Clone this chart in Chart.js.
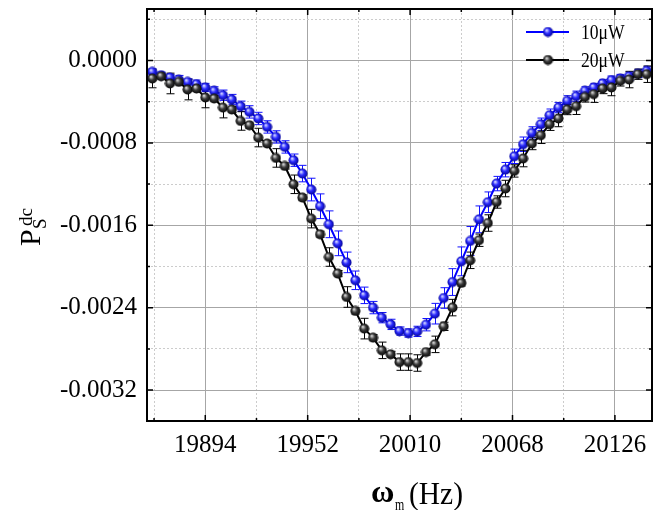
<!DOCTYPE html>
<html lang="en">
<head>
    <meta charset="UTF-8">
    <title>P_S^dc vs omega_m</title>
    <script src="https://cdn.jsdelivr.net/npm/chart.js"></script>
    <style>
        body { margin: 0; background: #fff; }
        #wrap { width: 654px; height: 510px; }
    </style>
</head>
<body>
    <div id="wrap"><canvas id="chart" width="654" height="510"></canvas></div>
    <script>
        // frequencies (Hz)
        const freq = [19864, 19869, 19874, 19879, 19884, 19889, 19894, 19899, 19904, 19909,
                      19914, 19919, 19924, 19929, 19934, 19939, 19944, 19949, 19954, 19959,
                      19964, 19969, 19974, 19979, 19984, 19989, 19994, 19999, 20004, 20009,
                      20014, 20019, 20024, 20029, 20034, 20039, 20044, 20049, 20054, 20059,
                      20064, 20069, 20074, 20079, 20084, 20089, 20094, 20099, 20104, 20109,
                      20114, 20119, 20124, 20129, 20134, 20139, 20144];

        // 10 uW series
        const p10 = [-0.000111, -0.000143, -0.000165, -0.000185, -0.000208, -0.000230, -0.000262, -0.000295, -0.000337, -0.000379,
                     -0.000444, -0.000499, -0.000563, -0.000645, -0.000742, -0.000839, -0.000968, -0.001098, -0.001253, -0.001415,
                     -0.001590, -0.001775, -0.001960, -0.002134, -0.002280, -0.002399, -0.002497, -0.002562, -0.002627, -0.002646,
                     -0.002630, -0.002565, -0.002458, -0.002306, -0.002151, -0.001950, -0.001752, -0.001542, -0.001376, -0.001195,
                     -0.001060, -0.000930, -0.000813, -0.000703, -0.000619, -0.000531, -0.000457, -0.000392, -0.000347, -0.000295,
                     -0.000262, -0.000223, -0.000191, -0.000175, -0.000153, -0.000126, -0.000101];
        const e10 = [0.00003, 0.00003, 0.00003, 0.00004, 0.00003, 0.00004, 0.00004, 0.00004, 0.00005, 0.00005,
                     0.00005, 0.00006, 0.00006, 0.00006, 0.00006, 0.00006, 0.00006, 0.00008, 0.00011, 0.00012,
                     0.00013, 0.00012, 0.00010, 0.00009, 0.00008, 0.00006, 0.00005, 0.00005, 0.00004, 0.00004,
                     0.00005, 0.00006, 0.00010, 0.00010, 0.00013, 0.00014, 0.00014, 0.00013, 0.00010, 0.00007,
                     0.00007, 0.00007, 0.00007, 0.00006, 0.00006, 0.00006, 0.00005, 0.00005, 0.00005, 0.00004,
                     0.00004, 0.00004, 0.00004, 0.00004, 0.00004, 0.00004, 0.00004];

        // 20 uW series
        const p20 = [-0.000175, -0.000153, -0.000223, -0.000208, -0.000282, -0.000272, -0.000359, -0.000369, -0.000457, -0.000476,
                     -0.000587, -0.000629, -0.000748, -0.000806, -0.000946, -0.001024, -0.001202, -0.001331, -0.001535, -0.001687,
                     -0.001908, -0.002069, -0.002296, -0.002432, -0.002603, -0.002691, -0.002814, -0.002853, -0.002928, -0.002928,
                     -0.002937, -0.002831, -0.002756, -0.002581, -0.002399, -0.002160, -0.001940, -0.001745, -0.001578, -0.001374,
                     -0.001243, -0.001072, -0.000952, -0.000806, -0.000726, -0.000619, -0.000563, -0.000476, -0.000444, -0.000354,
                     -0.000327, -0.000272, -0.000262, -0.000198, -0.000185, -0.000133, -0.000133];
        const e20 = [0.00009, 0.00003, 0.00010, 0.00003, 0.00010, 0.00003, 0.00010, 0.00003, 0.00010, 0.00003,
                     0.00009, 0.00003, 0.00009, 0.00003, 0.00009, 0.00003, 0.00009, 0.00003, 0.00009, 0.00003,
                     0.00009, 0.00003, 0.00010, 0.00003, 0.00010, 0.00003, 0.00008, 0.00003, 0.00008, 0.00008,
                     0.00008, 0.00003, 0.00008, 0.00004, 0.00008, 0.00003, 0.00008, 0.00006, 0.00008, 0.00006,
                     0.00008, 0.00006, 0.00008, 0.00006, 0.00008, 0.00006, 0.00008, 0.00005, 0.00008, 0.00005,
                     0.00008, 0.00005, 0.00008, 0.00005, 0.00008, 0.00005, 0.00008];

        const labels = ['10\u03bcW', '20\u03bcW'];
        const xMajor = [19894, 19952, 20010, 20068, 20126];
        const xMinor = [19865, 19923, 19981, 20039, 20097];
        const yMajor = [-0.0032, -0.0024, -0.0016, -0.0008, 0];
        const yMinor = [-0.0028, -0.0020, -0.0012, -0.0004, 0.0004];

        // shaded ball marker
        function ball(light, base, dark) {
            const c = document.createElement('canvas');
            c.width = 11; c.height = 11;
            const g = c.getContext('2d');
            const gr = g.createRadialGradient(4, 3.6, 0.3, 5.5, 5.5, 5.4);
            gr.addColorStop(0, light);
            gr.addColorStop(0.45, base);
            gr.addColorStop(1, dark);
            g.fillStyle = gr;
            g.beginPath();
            g.arc(5.5, 5.5, 5, 0, 2 * Math.PI);
            g.fill();
            return c;
        }
        const blueBall = ball('#dfe2ff', '#2a2aff', '#00008a');
        const blackBall = ball('#e0e0e0', '#3a3a3a', '#000000');

        const serif = '"Liberation Serif", "Times New Roman", serif';

        function isMajorY(v) { return yMajor.some(m => Math.abs(m - v) < 1e-9); }
        function isMajorX(v) { return xMajor.indexOf(v) >= 0; }

        const errorBars = {
            id: 'errorBars',
            beforeDatasetsDraw(chart) {
                const ctx = chart.ctx, xs = chart.scales.x, ys = chart.scales.y;
                const sets = [[p10, e10, '#1010ff'], [p20, e20, '#000000']];
                ctx.save();
                ctx.lineWidth = 1;
                sets.forEach(([vals, errs, col]) => {
                    ctx.strokeStyle = col;
                    vals.forEach((v, i) => {
                        const x = Math.round(xs.getPixelForValue(freq[i])) + 0.5;
                        const y1 = ys.getPixelForValue(v + errs[i]);
                        const y2 = ys.getPixelForValue(v - errs[i]);
                        ctx.beginPath();
                        ctx.moveTo(x, y1); ctx.lineTo(x, y2);
                        ctx.moveTo(x - 4, y1); ctx.lineTo(x + 4, y1);
                        ctx.moveTo(x - 4, y2); ctx.lineTo(x + 4, y2);
                        ctx.stroke();
                    });
                });
                ctx.restore();
            }
        };

        const frame = {
            id: 'frame',
            afterDraw(chart) {
                const ctx = chart.ctx, a = chart.chartArea;
                const xs = chart.scales.x, ys = chart.scales.y;
                ctx.save();
                // inward ticks
                ctx.strokeStyle = '#000';
                ctx.lineWidth = 1.5;
                ctx.beginPath();
                xMajor.concat(xMinor).forEach(v => {
                    const x = xs.getPixelForValue(v);
                    const len = isMajorX(v) ? 6 : 3;
                    ctx.moveTo(x, a.bottom); ctx.lineTo(x, a.bottom - len);
                    ctx.moveTo(x, a.top); ctx.lineTo(x, a.top + len);
                });
                yMajor.concat(yMinor).forEach(v => {
                    const y = ys.getPixelForValue(v);
                    const len = isMajorY(v) ? 6 : 3;
                    ctx.moveTo(a.left, y); ctx.lineTo(a.left + len, y);
                    ctx.moveTo(a.right, y); ctx.lineTo(a.right - len, y);
                });
                ctx.stroke();
                // box
                ctx.lineWidth = 2;
                ctx.strokeRect(a.left, a.top, a.right - a.left, a.bottom - a.top);

                // legend
                const items = [[blueBall, '#0000ff', 32], [blackBall, '#000000', 60]];
                items.forEach(([img, col, y], i) => {
                    ctx.strokeStyle = col;
                    ctx.lineWidth = 2;
                    ctx.beginPath();
                    ctx.moveTo(526, y); ctx.lineTo(569, y);
                    ctx.stroke();
                    ctx.drawImage(img, 548 - 5.5, y - 5.5);
                    ctx.save();
                    ctx.translate(581, y + 7);
                    ctx.scale(0.8, 1);
                    ctx.fillStyle = '#000';
                    ctx.font = '22px ' + serif;
                    ctx.textBaseline = 'alphabetic';
                    ctx.fillText(labels[i], 0, 0);
                    ctx.restore();
                });

                // x title
                ctx.fillStyle = '#000';
                ctx.textBaseline = 'alphabetic';
                ctx.font = 'bold 32px ' + serif;
                ctx.fillText('\u03c9', 371, 502);
                ctx.save();
                ctx.translate(395, 510);
                ctx.scale(0.7, 1);
                ctx.font = '17px ' + serif;
                ctx.fillText('m', 0, 0);
                ctx.restore();
                ctx.save();
                ctx.translate(409, 504);
                ctx.scale(0.95, 1);
                ctx.font = '31px ' + serif;
                ctx.fillText('(Hz)', 0, 0);
                ctx.restore();

                // y title
                ctx.save();
                ctx.rotate(-Math.PI / 2);
                ctx.font = '30px ' + serif;
                ctx.fillText('P', -246, 40);
                ctx.font = '19px ' + serif;
                ctx.fillText('S', -229, 46);
                ctx.fillText('dc', -226, 32);
                ctx.restore();
                ctx.restore();
            }
        };

        new Chart(document.getElementById('chart'), {
            type: 'line',
            data: {
                datasets: [
                    {
                        label: labels[0],
                        data: freq.map((f, i) => ({ x: f, y: p10[i] })),
                        borderColor: '#0000ff',
                        borderWidth: 2,
                        pointStyle: blueBall,
                        pointRadius: 5,
                        tension: 0,
                        order: 2
                    },
                    {
                        label: labels[1],
                        data: freq.map((f, i) => ({ x: f, y: p20[i] })),
                        borderColor: '#000000',
                        borderWidth: 2,
                        pointStyle: blackBall,
                        pointRadius: 5,
                        tension: 0,
                        order: 1
                    }
                ]
            },
            options: {
                responsive: false,
                animation: false,
                layout: { autoPadding: false, padding: { top: 9, right: 2, left: 0, bottom: 0 } },
                plugins: { legend: { display: false }, tooltip: { enabled: false } },
                scales: {
                    x: {
                        type: 'linear',
                        min: 19861,
                        max: 20147,
                        afterBuildTicks: s => { s.ticks = xMinor.concat(xMajor).sort((a, b) => a - b).map(v => ({ value: v })); },
                        afterFit: s => { s.height = 89; s.paddingLeft = 0; s.paddingRight = 0; },
                        border: { display: false, dash: c => isMajorX(c.tick.value) ? [] : [2, 2] },
                        grid: {
                            drawTicks: false,
                            lineWidth: 1,
                            color: c => isMajorX(c.tick.value) ? '#a6a6a6' : '#cccccc'
                        },
                        ticks: {
                            autoSkip: false,
                            maxRotation: 0,
                            padding: 9,
                            color: '#000',
                            font: { family: serif, size: 25 },
                            callback: v => isMajorX(v) ? String(v) : ''
                        }
                    },
                    y: {
                        min: -0.0035,
                        max: 0.0005,
                        afterBuildTicks: s => { s.ticks = yMinor.concat(yMajor).sort((a, b) => a - b).map(v => ({ value: v })); },
                        afterFit: s => { s.width = 147; s.paddingTop = 0; s.paddingBottom = 0; },
                        border: { display: false, dash: c => isMajorY(c.tick.value) ? [] : [2, 2] },
                        grid: {
                            drawTicks: false,
                            lineWidth: 1,
                            color: c => isMajorY(c.tick.value) ? '#a6a6a6' : '#cccccc'
                        },
                        ticks: {
                            padding: 10,
                            color: '#000',
                            font: { family: serif, size: 25 },
                            callback: v => isMajorY(v) ? (Math.abs(v) < 1e-12 ? '0.0000' : v.toFixed(4)) : ''
                        }
                    }
                }
            },
            plugins: [errorBars, frame]
        });
    </script>
</body>
</html>
